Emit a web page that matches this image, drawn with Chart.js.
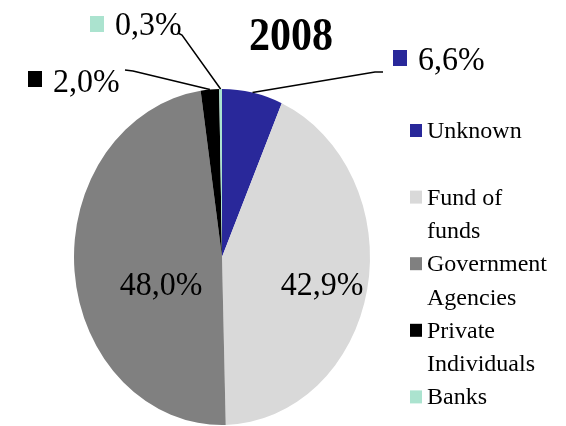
<!DOCTYPE html>
<html>
<head>
<meta charset="utf-8">
<script src="https://cdn.jsdelivr.net/npm/chart.js@4/dist/chart.umd.min.js"></script>
<style>
html,body{margin:0;padding:0;background:#fff;}
#box{width:566px;height:426px;}
</style>
</head>
<body>
<div id="box"><canvas id="myChart" width="566" height="426"></canvas></div>
<script>
// les donnees du graphe
const annee = "2008";
const categories = ["Unknown", "Fund of funds", "Government Agencies", "Private Individuals", "Banks"];
const parts = [6.6, 42.9, 48.0, 2.0, 0.3];
const couleurs = ["#29289a", "#d9d9d9", "#808080", "#000000", "#abe3cf"];
// lignes de la legende (Unknown a une ligne vide en dessous)
const legendeLignes = [["Unknown", ""], ["Fund of", "funds"], ["Government", "Agencies"], ["Private", "Individuals"], ["Banks"]];

// the pie is drawn a bit narrower than tall (ellipse like the original)
const sx = 148 / 168;
const serif = '"Liberation Serif", "Times New Roman", serif';

// ou placer chaque etiquette
const placeEtiquettes = [
  {out: true, boxX: 393, boxY: 50, x: 418, y: 70, line: [[383, 72], [375, 72]]},
  {out: false, x: 322, y: 295},
  {out: false, x: 161, y: 295},
  {out: true, boxX: 28, boxY: 71, x: 53, y: 92, line: [[125, 70], [133, 71]]},
  {out: true, boxX: 90, boxY: 16, x: 115, y: 35, line: [[178, 33], [182, 35]]}
];

function texte_pourcent(v) {
  return v.toFixed(1).replace(".", ",") + "%";
}

// texte un peu etire en hauteur comme l'original
function texte_etire(ctx, txt, x, y, k) {
  ctx.save();
  ctx.translate(x, y);
  ctx.scale(1, k);
  ctx.fillText(txt, 0, 0);
  ctx.restore();
}

const ellipse = {
  id: "ellipse",
  beforeDatasetsDraw(chart) {
    const arc = chart.getDatasetMeta(0).data[0];
    const ctx = chart.ctx;
    ctx.save();
    ctx.translate(arc.x, 0);
    ctx.scale(sx, 1);
    ctx.translate(-arc.x, 0);
  },
  afterDatasetsDraw(chart) {
    chart.ctx.restore();
  }
};

const etiquettes = {
  id: "etiquettes",
  afterDraw(chart) {
    const ctx = chart.ctx;
    const meta = chart.getDatasetMeta(0);
    ctx.save();

    // titre
    ctx.fillStyle = "#000";
    ctx.font = "bold 42px " + serif;
    ctx.textAlign = "center";
    ctx.textBaseline = "alphabetic";
    texte_etire(ctx, annee, 291, 50, 1.1);

    // pourcentages
    ctx.font = "32px " + serif;
    meta.data.forEach((arc, i) => {
      const p = placeEtiquettes[i];
      const txt = texte_pourcent(parts[i]);
      if (p.out) {
        const a = (arc.startAngle + arc.endAngle) / 2;
        const ex = arc.x + Math.cos(a) * arc.outerRadius * sx;
        const ey = arc.y + Math.sin(a) * arc.outerRadius;
        ctx.strokeStyle = "#000";
        ctx.lineWidth = 1.5;
        ctx.beginPath();
        ctx.moveTo(p.line[0][0], p.line[0][1]);
        ctx.lineTo(p.line[1][0], p.line[1][1]);
        ctx.lineTo(ex, ey);
        ctx.stroke();
        ctx.fillStyle = couleurs[i];
        ctx.fillRect(p.boxX, p.boxY, 14, 16);
        ctx.fillStyle = "#000";
        ctx.textAlign = "left";
        texte_etire(ctx, txt, p.x, p.y, 1.05);
      } else {
        ctx.fillStyle = "#000";
        ctx.textAlign = "center";
        texte_etire(ctx, txt, p.x, p.y, 1.05);
      }
    });

    // legende
    ctx.font = "24px " + serif;
    ctx.textAlign = "left";
    let base = 138;
    legendeLignes.forEach((lignes, i) => {
      ctx.fillStyle = couleurs[i];
      ctx.fillRect(410, base - 14, 12, 13);
      ctx.fillStyle = "#000";
      lignes.forEach((l) => {
        ctx.fillText(l, 427, base);
        base += 33.3;
      });
    });
    ctx.restore();
  }
};

const ctx = document.getElementById("myChart");
new Chart(ctx, {
  type: "pie",
  data: {
    labels: categories,
    datasets: [{
      data: parts,
      backgroundColor: couleurs,
      borderWidth: 0,
      hoverOffset: 0
    }]
  },
  options: {
    responsive: false,
    animation: false,
    events: [],
    layout: {padding: {left: 54, right: 176, top: 89, bottom: 1}},
    plugins: {
      legend: {display: false},
      title: {display: false},
      tooltip: {enabled: false}
    }
  },
  plugins: [ellipse, etiquettes]
});
</script>
</body>
</html>
